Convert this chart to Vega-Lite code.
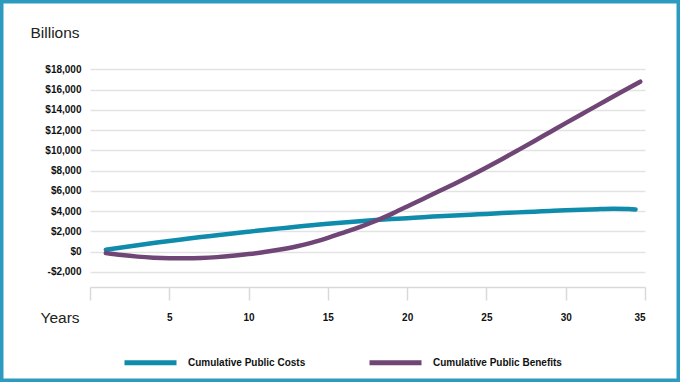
{
  "$schema": "https://vega.github.io/schema/vega-lite/v6.json",
  "width": 680,
  "height": 382,
  "autosize": "none",
  "padding": 0,
  "background": "white",
  "config": {
    "font": "Liberation Sans",
    "view": {"stroke": "#2c9bbf", "strokeWidth": 7, "fill": "white"}
  },
  "data": {
    "values": [
      {"series": "Cumulative Public Costs", "year": 1, "value": 180},
      {"series": "Cumulative Public Costs", "year": 2, "value": 400},
      {"series": "Cumulative Public Costs", "year": 3, "value": 620},
      {"series": "Cumulative Public Costs", "year": 4, "value": 840},
      {"series": "Cumulative Public Costs", "year": 5, "value": 1050},
      {"series": "Cumulative Public Costs", "year": 6, "value": 1240},
      {"series": "Cumulative Public Costs", "year": 7, "value": 1430},
      {"series": "Cumulative Public Costs", "year": 8, "value": 1610},
      {"series": "Cumulative Public Costs", "year": 9, "value": 1790},
      {"series": "Cumulative Public Costs", "year": 10, "value": 1960},
      {"series": "Cumulative Public Costs", "year": 11, "value": 2130},
      {"series": "Cumulative Public Costs", "year": 12, "value": 2290},
      {"series": "Cumulative Public Costs", "year": 13, "value": 2450},
      {"series": "Cumulative Public Costs", "year": 14, "value": 2600},
      {"series": "Cumulative Public Costs", "year": 15, "value": 2750},
      {"series": "Cumulative Public Costs", "year": 16, "value": 2880},
      {"series": "Cumulative Public Costs", "year": 17, "value": 3000},
      {"series": "Cumulative Public Costs", "year": 18, "value": 3110},
      {"series": "Cumulative Public Costs", "year": 19, "value": 3210},
      {"series": "Cumulative Public Costs", "year": 20, "value": 3300},
      {"series": "Cumulative Public Costs", "year": 21, "value": 3400},
      {"series": "Cumulative Public Costs", "year": 22, "value": 3480},
      {"series": "Cumulative Public Costs", "year": 23, "value": 3560},
      {"series": "Cumulative Public Costs", "year": 24, "value": 3640},
      {"series": "Cumulative Public Costs", "year": 25, "value": 3720},
      {"series": "Cumulative Public Costs", "year": 26, "value": 3800},
      {"series": "Cumulative Public Costs", "year": 27, "value": 3870},
      {"series": "Cumulative Public Costs", "year": 28, "value": 3940},
      {"series": "Cumulative Public Costs", "year": 29, "value": 4010},
      {"series": "Cumulative Public Costs", "year": 30, "value": 4080},
      {"series": "Cumulative Public Costs", "year": 31, "value": 4140},
      {"series": "Cumulative Public Costs", "year": 32, "value": 4190},
      {"series": "Cumulative Public Costs", "year": 33, "value": 4220},
      {"series": "Cumulative Public Costs", "year": 34, "value": 4200},
      {"series": "Cumulative Public Costs", "year": 34.4, "value": 4150},
      {"series": "Cumulative Public Benefits", "year": 1, "value": -150},
      {"series": "Cumulative Public Benefits", "year": 2, "value": -350},
      {"series": "Cumulative Public Benefits", "year": 3, "value": -500},
      {"series": "Cumulative Public Benefits", "year": 4, "value": -600},
      {"series": "Cumulative Public Benefits", "year": 5, "value": -650},
      {"series": "Cumulative Public Benefits", "year": 6, "value": -660},
      {"series": "Cumulative Public Benefits", "year": 7, "value": -630},
      {"series": "Cumulative Public Benefits", "year": 8, "value": -550},
      {"series": "Cumulative Public Benefits", "year": 9, "value": -420},
      {"series": "Cumulative Public Benefits", "year": 10, "value": -250},
      {"series": "Cumulative Public Benefits", "year": 11, "value": -50},
      {"series": "Cumulative Public Benefits", "year": 12, "value": 200},
      {"series": "Cumulative Public Benefits", "year": 13, "value": 500},
      {"series": "Cumulative Public Benefits", "year": 14, "value": 880},
      {"series": "Cumulative Public Benefits", "year": 15, "value": 1350},
      {"series": "Cumulative Public Benefits", "year": 16, "value": 1880},
      {"series": "Cumulative Public Benefits", "year": 17, "value": 2420},
      {"series": "Cumulative Public Benefits", "year": 18, "value": 3020},
      {"series": "Cumulative Public Benefits", "year": 19, "value": 3700},
      {"series": "Cumulative Public Benefits", "year": 20, "value": 4450},
      {"series": "Cumulative Public Benefits", "year": 21, "value": 5200},
      {"series": "Cumulative Public Benefits", "year": 22, "value": 5950},
      {"series": "Cumulative Public Benefits", "year": 23, "value": 6700},
      {"series": "Cumulative Public Benefits", "year": 24, "value": 7480},
      {"series": "Cumulative Public Benefits", "year": 25, "value": 8300},
      {"series": "Cumulative Public Benefits", "year": 26, "value": 9150},
      {"series": "Cumulative Public Benefits", "year": 27, "value": 10020},
      {"series": "Cumulative Public Benefits", "year": 28, "value": 10900},
      {"series": "Cumulative Public Benefits", "year": 29, "value": 11790},
      {"series": "Cumulative Public Benefits", "year": 30, "value": 12680},
      {"series": "Cumulative Public Benefits", "year": 31, "value": 13560},
      {"series": "Cumulative Public Benefits", "year": 32, "value": 14440},
      {"series": "Cumulative Public Benefits", "year": 33, "value": 15310},
      {"series": "Cumulative Public Benefits", "year": 34, "value": 16180},
      {"series": "Cumulative Public Benefits", "year": 34.7, "value": 16780}
    ]
  },
  "mark": {"type": "line", "interpolate": "monotone", "strokeWidth": 4.5, "strokeCap": "round"},
  "encoding": {
    "x": {
      "field": "year",
      "type": "quantitative",
      "scale": {"domain": [0, 35], "range": [90, 645], "nice": false, "zero": false},
      "axis": {
        "values": [0, 5, 10, 15, 20, 25, 30, 35],
        "offset": -95,
        "grid": false,
        "domainColor": "#d9d9d9",
        "domainWidth": 1.5,
        "tickColor": "#d9d9d9",
        "tickWidth": 1.5,
        "tickSize": 13,
        "labelPadding": 12,
        "labelFont": "Liberation Sans",
        "labelFontSize": 10,
        "labelFontWeight": "bold",
        "labelColor": "#111111",
        "labelExpr": "datum.value == 0 ? '' : datum.label",
        "title": "Years",
        "titleFont": "Liberation Sans",
        "titleFontSize": 15.5,
        "titleFontWeight": "normal",
        "titleColor": "#222222",
        "titleAlign": "left",
        "titleBaseline": "middle",
        "titleX": 40,
        "titleY": 30
      }
    },
    "y": {
      "field": "value",
      "type": "quantitative",
      "scale": {"domain": [-3500, 18000], "range": [287, 69.3], "nice": false, "zero": false},
      "axis": {
        "values": [-2000, 0, 2000, 4000, 6000, 8000, 10000, 12000, 14000, 16000, 18000],
        "offset": -90,
        "domain": false,
        "ticks": false,
        "grid": true,
        "gridColor": "#e3e3e3",
        "gridWidth": 1.5,
        "labelPadding": 9,
        "labelFont": "Liberation Sans",
        "labelFontSize": 10,
        "labelFontWeight": "bold",
        "labelColor": "#111111",
        "labelExpr": "datum.value < 0 ? '-$' + format(-datum.value, ',') : '$' + format(datum.value, ',')",
        "title": "Billions",
        "titleFont": "Liberation Sans",
        "titleFontSize": 15.5,
        "titleFontWeight": "normal",
        "titleColor": "#222222",
        "titleAngle": 0,
        "titleAlign": "left",
        "titleBaseline": "middle",
        "titleX": -60,
        "titleY": 32
      }
    },
    "color": {
      "field": "series",
      "type": "nominal",
      "scale": {
        "domain": ["Cumulative Public Costs", "Cumulative Public Benefits"],
        "range": ["#0f8bab", "#6f4676"]
      },
      "legend": {
        "title": null,
        "orient": "none",
        "direction": "horizontal",
        "legendX": 122,
        "legendY": 334,
        "padding": 0,
        "symbolType": "stroke",
        "symbolSize": 2704,
        "symbolStrokeWidth": 5,
        "labelOffset": 9,
        "columnPadding": 53,
        "labelFont": "Liberation Sans",
        "labelFontSize": 10,
        "labelFontWeight": "bold",
        "labelColor": "#111111",
        "labelLimit": 300
      }
    }
  }
}
